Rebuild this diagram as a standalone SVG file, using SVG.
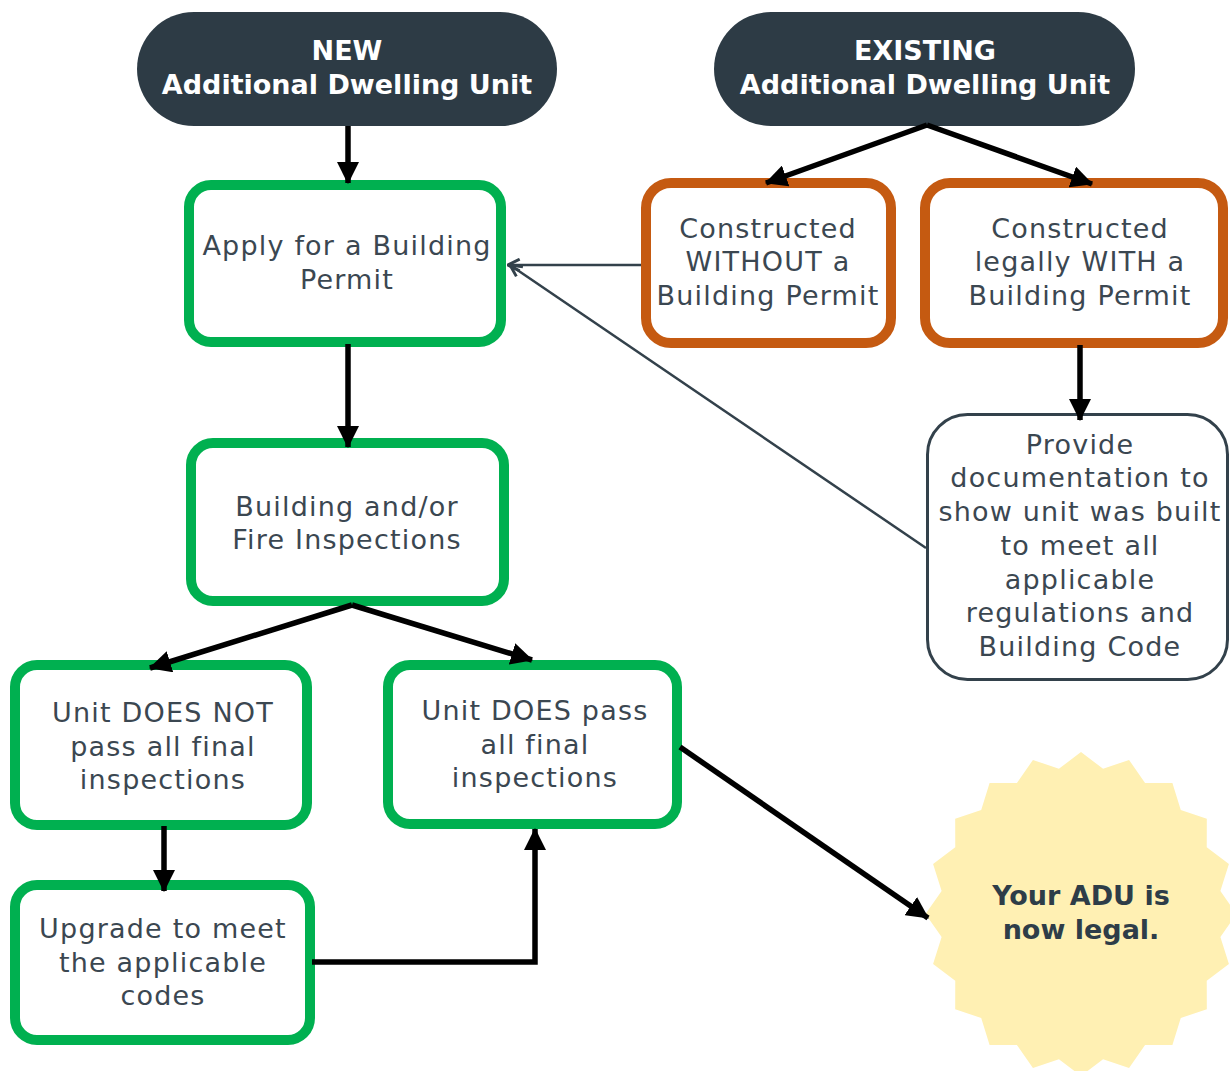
<svg xmlns="http://www.w3.org/2000/svg" width="1230" height="1071" viewBox="0 0 1230 1071">
<style>
.pill{fill:#2d3b45}
.ht{font-family:"DejaVu Sans",sans-serif;font-weight:bold;font-size:27px;fill:#ffffff;text-anchor:middle}
.g{fill:#ffffff;stroke:#00b050;stroke-width:10}
.o{fill:#ffffff;stroke:#c55a11;stroke-width:10}
.d{fill:#ffffff;stroke:#33414b;stroke-width:3}
.t{font-family:"DejaVu Sans",sans-serif;font-size:27px;fill:#3b4751;text-anchor:middle;letter-spacing:1.2px}
.st{font-family:"DejaVu Sans",sans-serif;font-weight:bold;font-size:27px;fill:#2e3d48;text-anchor:middle}
.a{fill:none;stroke:#000000;stroke-width:5.5}
.th{fill:none;stroke:#33414b;stroke-width:2.5}
</style>
<defs>
<marker id="ah" markerUnits="userSpaceOnUse" viewBox="0 0 20 20" refX="19" refY="10" markerWidth="22" markerHeight="22" orient="auto">
<path d="M0,0 L20,10 L0,20 z" fill="#000000"/>
</marker>
<marker id="oh" markerUnits="userSpaceOnUse" viewBox="0 0 12 12" refX="11" refY="6" markerWidth="14" markerHeight="14" orient="auto">
<path d="M1,1 L11,6 L1,11" fill="none" stroke="#33414b" stroke-width="2.5"/>
</marker>
</defs>
<rect width="1230" height="1071" fill="#ffffff"/>

<g id="new-adu">
<rect class="pill" x="137" y="12" width="420" height="114" rx="57"/>
<text class="ht" x="347" y="60">NEW</text>
<text class="ht" x="347" y="94">Additional Dwelling Unit</text>
</g>
<g id="existing-adu">
<rect class="pill" x="714" y="12" width="421" height="114" rx="57"/>
<text class="ht" x="925" y="60">EXISTING</text>
<text class="ht" x="925" y="94">Additional Dwelling Unit</text>
</g>
<g id="apply-permit">
<rect class="g" x="189" y="185" width="312" height="157" rx="22"/>
<text class="t" x="347" y="255">Apply for a Building</text>
<text class="t" x="347" y="289">Permit</text>
</g>
<g id="inspections">
<rect class="g" x="191" y="443" width="313" height="158" rx="22"/>
<text class="t" x="347" y="516">Building and/or</text>
<text class="t" x="347" y="549">Fire Inspections</text>
</g>
<g id="does-not-pass">
<rect class="g" x="15" y="665" width="292" height="160" rx="22"/>
<text class="t" x="163" y="722">Unit DOES NOT</text>
<text class="t" x="163" y="756">pass all final</text>
<text class="t" x="163" y="789">inspections</text>
</g>
<g id="does-pass">
<rect class="g" x="388" y="665" width="289" height="159" rx="22"/>
<text class="t" x="535" y="720">Unit DOES pass</text>
<text class="t" x="535" y="754">all final</text>
<text class="t" x="535" y="787">inspections</text>
</g>
<g id="upgrade">
<rect class="g" x="15" y="885" width="295" height="155" rx="22"/>
<text class="t" x="163" y="938">Upgrade to meet</text>
<text class="t" x="163" y="972">the applicable</text>
<text class="t" x="163" y="1005">codes</text>
</g>
<g id="without-permit">
<rect class="o" x="646" y="183" width="245" height="160" rx="25"/>
<text class="t" x="768" y="238">Constructed</text>
<text class="t" x="768" y="271">WITHOUT a</text>
<text class="t" x="768" y="305">Building Permit</text>
</g>
<g id="with-permit">
<rect class="o" x="925" y="183" width="298" height="160" rx="25"/>
<text class="t" x="1080" y="238">Constructed</text>
<text class="t" x="1080" y="271">legally WITH a</text>
<text class="t" x="1080" y="305">Building Permit</text>
</g>
<g id="documentation">
<rect class="d" x="927.5" y="414.5" width="300" height="265" rx="40"/>
<text class="t" x="1080" y="454">Provide</text>
<text class="t" x="1080" y="487">documentation to</text>
<text class="t" x="1080" y="521">show unit was built</text>
<text class="t" x="1080" y="555">to meet all</text>
<text class="t" x="1080" y="589">applicable</text>
<text class="t" x="1080" y="622">regulations and</text>
<text class="t" x="1080" y="656">Building Code</text>
</g>
<g id="legal">
<polygon fill="#fff0b3" transform="translate(1081,914) scale(0.96,1)" points="0,-162 22.99,-145.19 50.06,-154.08 66.74,-130.98 95.22,-131.06 103.94,-103.94 131.06,-95.22 130.98,-66.74 154.08,-50.06 145.19,-22.99 162,0 145.19,22.99 154.08,50.06 130.98,66.74 131.06,95.22 103.94,103.94 95.22,131.06 66.74,130.98 50.06,154.08 22.99,145.19 0,162 -22.99,145.19 -50.06,154.08 -66.74,130.98 -95.22,131.06 -103.94,103.94 -131.06,95.22 -130.98,66.74 -154.08,50.06 -145.19,22.99 -162,0 -145.19,-22.99 -154.08,-50.06 -130.98,-66.74 -131.06,-95.22 -103.94,-103.94 -95.22,-131.06 -66.74,-130.98 -50.06,-154.08 -22.99,-145.19"/>
<text class="st" x="1081" y="905">Your ADU is</text>
<text class="st" x="1081" y="939">now legal.</text>
</g>

<g id="connectors">
<line class="a" x1="348" y1="126" x2="348" y2="183" marker-end="url(#ah)"/>
<line class="a" x1="348" y1="344" x2="348" y2="447" marker-end="url(#ah)"/>
<line class="a" x1="927" y1="125" x2="766" y2="183" marker-end="url(#ah)"/>
<line class="a" x1="927" y1="125" x2="1092" y2="184" marker-end="url(#ah)"/>
<line class="a" x1="1080" y1="345" x2="1080" y2="420" marker-end="url(#ah)"/>
<line class="a" x1="352" y1="605" x2="150" y2="668" marker-end="url(#ah)"/>
<line class="a" x1="352" y1="605" x2="532" y2="660" marker-end="url(#ah)"/>
<line class="a" x1="164" y1="826" x2="164" y2="891" marker-end="url(#ah)"/>
<path class="a" d="M312,962 H535 V829" marker-end="url(#ah)"/>
<line class="a" x1="680" y1="747" x2="928" y2="918" marker-end="url(#ah)"/>
<line class="th" x1="641" y1="265" x2="508" y2="265" marker-end="url(#oh)"/>
<line class="th" x1="926" y1="548" x2="510" y2="265" marker-end="url(#oh)"/>
</g>
</svg>
